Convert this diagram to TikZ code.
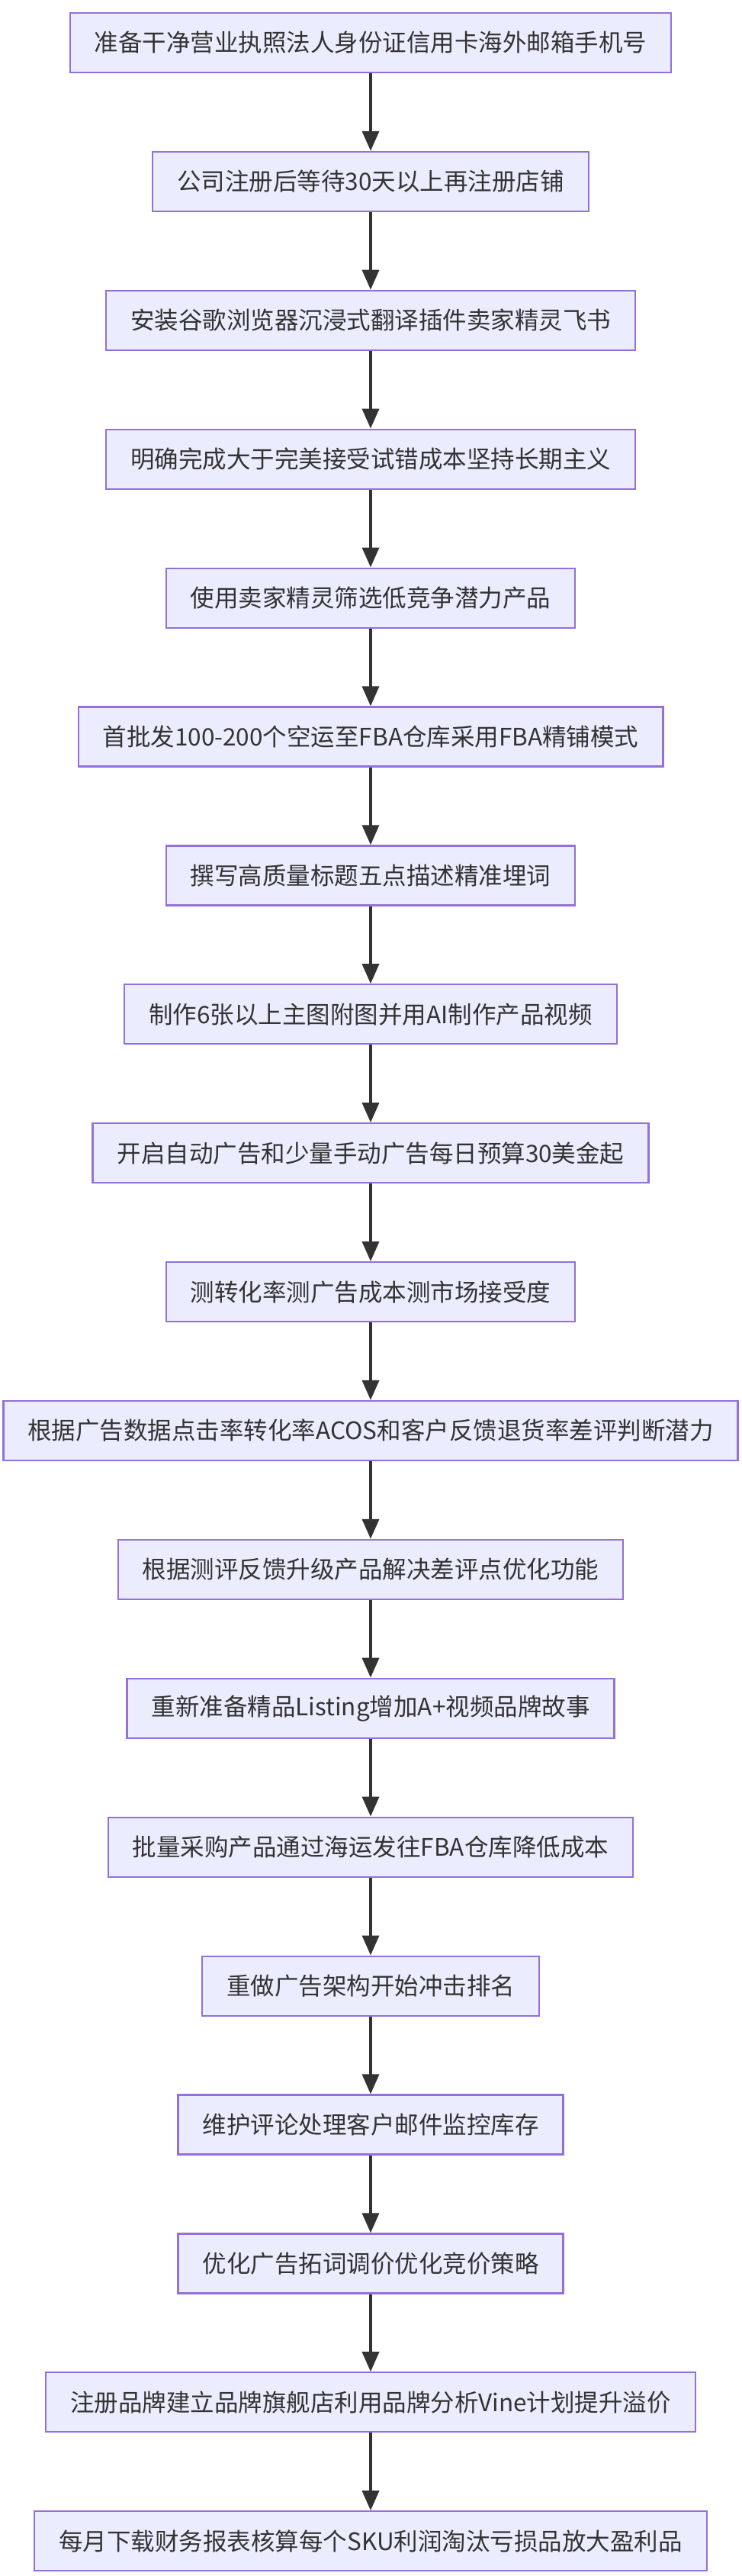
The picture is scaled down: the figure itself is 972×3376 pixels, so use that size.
\documentclass[tikz,border=0pt]{standalone}
\usepackage{fontspec}
\setmainfont{Noto Sans CJK SC}
\usetikzlibrary{arrows.meta}
\definecolor{boxfill}{HTML}{ECECFF}
\definecolor{boxline}{HTML}{9370DB}
\definecolor{edge}{HTML}{333333}
\tikzset{
  stepbox/.style={draw=boxline,fill=boxfill,line width=2.2pt,minimum height=78pt,inner xsep=32pt,
    font=\fontsize{31.5pt}{38pt}\selectfont,text=edge},
  flow/.style={draw=edge,line width=3.6pt,-{Triangle[length=26pt,width=22pt]}}
}
\begin{document}
\begin{tikzpicture}[x=1pt,y=1pt]
\useasboundingbox (0,0) rectangle (972,-3376);
\foreach \t [count=\i from 0] in {准备干净营业执照法人身份证信用卡海外邮箱手机号,公司注册后等待30天以上再注册店铺,安装谷歌浏览器沉浸式翻译插件卖家精灵飞书,明确完成大于完美接受试错成本坚持长期主义,使用卖家精灵筛选低竞争潜力产品,首批发100-200个空运至FBA仓库采用FBA精铺模式,撰写高质量标题五点描述精准埋词,制作6张以上主图附图并用AI制作产品视频,开启自动广告和少量手动广告每日预算30美金起,测转化率测广告成本测市场接受度,根据广告数据点击率转化率ACOS和客户反馈退货率差评判断潜力,根据测评反馈升级产品解决差评点优化功能,重新准备精品Listing增加A+视频品牌故事,批量采购产品通过海运发往FBA仓库降低成本,重做广告架构开始冲击排名,维护评论处理客户邮件监控库存,优化广告拓词调价优化竞价策略,注册品牌建立品牌旗舰店利用品牌分析Vine计划提升溢价,每月下载财务报表核算每个SKU利润淘汰亏损品放大盈利品}{
  \node[stepbox] (n\i) at (486,{-56-181.9*\i}) {\t};
}
\foreach \i [evaluate=\i as \j using int(\i+1)] in {0,...,17}{
  \draw[flow] (n\i) -- (n\j);
}
\end{tikzpicture}
\end{document}
